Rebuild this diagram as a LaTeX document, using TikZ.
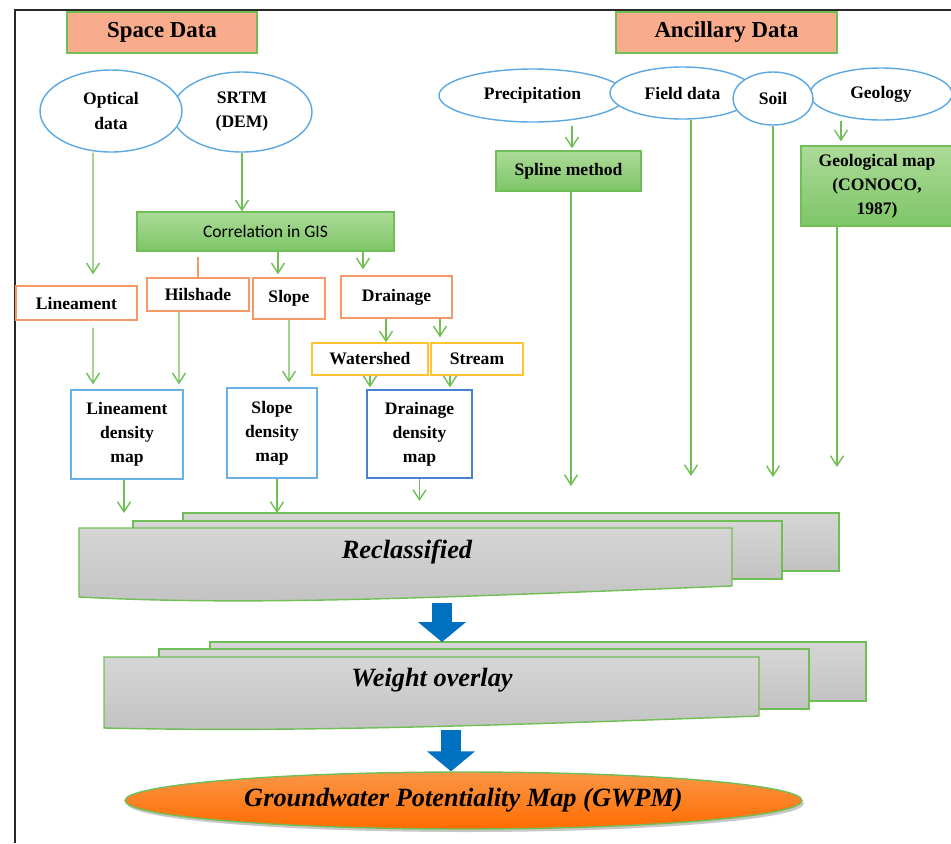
\documentclass[tikz,border=0pt]{standalone}
\usepackage{fontspec}
\setmainfont{Liberation Serif}
\newfontfamily\calibrifont{Carlito}
\usetikzlibrary{arrows.meta,shapes.geometric,shadows}

\definecolor{salmon}{RGB}{248,172,140}
\definecolor{boxgreen}{RGB}{112,190,86}
\definecolor{greentop}{RGB}{172,219,152}
\definecolor{greenbot}{RGB}{126,197,104}
\definecolor{ellblue}{RGB}{92,168,226}
\definecolor{mapblue}{RGB}{104,178,232}
\definecolor{mapdarkblue}{RGB}{72,128,210}
\definecolor{boxorange}{RGB}{246,152,104}
\definecolor{boxyellow}{RGB}{255,196,48}
\definecolor{layertop}{RGB}{214,214,214}
\definecolor{layerbot}{RGB}{194,194,194}
\definecolor{flowblue}{RGB}{0,112,192}
\definecolor{gwpmtop}{RGB}{250,150,70}
\definecolor{gwpmbot}{RGB}{255,108,0}
\definecolor{framegray}{RGB}{40,40,40}

\begin{document}
\begin{tikzpicture}[x=0.02cm,y=-0.02cm]
\tikzstyle{header} = [rectangle, draw=boxgreen, line width=.8pt, fill=salmon,
font=\bfseries\fontsize{13}{15}\selectfont, minimum height=.82cm]
\tikzstyle{source} = [ellipse, draw=ellblue, line width=.8pt, fill=white,
inner sep=0pt, align=center, font=\bfseries\fontsize{10}{13.7}\selectfont]
\tikzstyle{process} = [rectangle, draw=boxgreen, line width=.8pt, top color=greentop,
bottom color=greenbot, inner sep=2pt, align=center, font=\bfseries\fontsize{10}{13.7}\selectfont]
\tikzstyle{layerbox} = [rectangle, draw=boxorange, line width=.8pt, fill=white,
font=\bfseries\fontsize{10}{12}\selectfont]
\tikzstyle{subbox} = [layerbox, draw=boxyellow]
\tikzstyle{mapbox} = [rectangle, draw=mapblue, line width=.8pt, fill=white,
align=center, font=\bfseries\fontsize{10}{13.7}\selectfont]
\tikzstyle{sheet} = [draw=boxgreen, line width=.8pt, top color=layertop, bottom color=layerbot]
\tikzstyle{stacktext} = [font=\bfseries\itshape\fontsize{15}{18}\selectfont]
\tikzstyle{line} = [draw=boxgreen, line width=.8pt, -{Straight Barb[length=.2cm,width=.26cm]}]
\tikzstyle{flow} = [draw=flowblue, line width=.4cm, -{Triangle[length=.4cm,width=.94cm]}]

\useasboundingbox (0,0) rectangle (951,843);
\draw[framegray, line width=1.2pt] (951,10) -- (15,10) -- (15,843);

% reclassified sheets
\path[sheet] (183,513) rectangle (839,571);
\path[sheet] (133,521) rectangle (782,579);
\path[sheet] (79,528) -- (732,528) -- (732,586) .. controls (430,598) and (250,606) .. (79,597) -- cycle;
% weight overlay sheets
\path[sheet] (210,642) rectangle (866,701);
\path[sheet] (159,649) rectangle (809,709);
\path[sheet] (104,657) -- (759,657) -- (759,716) .. controls (460,727) and (280,732) .. (104,728) -- cycle;

\coordinate (recltop) at (183,513);
\coordinate (reclbot) at (442,603);
\coordinate (wgttop) at (210,642);
\coordinate (wgtbot) at (451,730);

% row 1
\node[header, minimum width=3.8cm] (space) at (162,32.5) {Space Data};
\node[header, minimum width=4.42cm] (ancillary) at (726.5,32.5) {Ancillary Data};
% row 2
\node[source, minimum width=2.8cm, minimum height=1.6cm] (srtm) at (242,112) {SRTM\\(DEM)};
\node[source, minimum width=2.84cm, minimum height=1.64cm] (optical) at (111,111) {Optical\\data};
\node[source, minimum width=3.74cm, minimum height=1.06cm] (precip) at (532.5,95.5) {Precipitation};
\node[source, minimum width=2.9cm, minimum height=1.04cm] (field) at (682.5,93) {Field data};
\node[source, minimum width=2.84cm, minimum height=1.04cm] (geology) at (881,94) {Geology};
\node[source, minimum width=1.6cm, minimum height=1.06cm] (soil) at (773,98.5) {Soil};
% row 3
\node[process, font=\calibrifont\fontsize{10}{12}\selectfont, minimum width=5.14cm,
minimum height=.78cm] (corr) at (265.5,231.5) {Correlation in GIS};
\node[process, minimum width=2.9cm, minimum height=.8cm] (spline) at (568.5,171) {Spline method};
\node[process, minimum width=3.04cm, minimum height=1.6cm] (geomap) at (877,186) {Geological map\\(CONOCO,\\1987)};
% row 4
\node[layerbox, minimum width=2.42cm, minimum height=.68cm] (lineament) at (76.5,303) {Lineament};
\node[layerbox, minimum width=2.04cm, minimum height=.66cm] (hilshade) at (198,294.5) {Hilshade};
\node[layerbox, minimum width=1.44cm, minimum height=.82cm] (slope) at (289,298.5) {Slope};
\node[layerbox, minimum width=2.22cm, minimum height=.84cm] (drainage) at (396.5,297) {Drainage};
% row 5
\node[subbox, minimum width=2.32cm, minimum height=.64cm] (watershed) at (370,359) {Watershed};
\node[subbox, minimum width=1.84cm, minimum height=.64cm] (stream) at (477,359) {Stream};
% row 6
\node[mapbox, minimum width=2.24cm, minimum height=1.78cm] (ldmap) at (127,434.5) {Lineament\\density\\map};
\node[mapbox, minimum width=1.8cm, minimum height=1.8cm] (sdmap) at (272,433) {Slope\\density\\map};
\node[mapbox, draw=mapdarkblue, minimum width=2.1cm, minimum height=1.76cm] (ddmap) at (419.5,434) {Drainage\\density\\map};
% row 7
\node[stacktext] (reclass) at (407,552) {Reclassified};
\node[stacktext] (weight) at (432,680) {Weight overlay};
\node[ellipse, draw=boxgreen, line width=.8pt, top color=gwpmtop, bottom color=gwpmbot,
inner sep=0pt, minimum width=13.54cm, minimum height=1.14cm, stacktext,
drop shadow={shadow xshift=.4mm, shadow yshift=-.6mm, opacity=.22, fill=black}]
(gwpm) at (463.5,800.5) {Groundwater Potentiality Map (GWPM)};

\tikzstyle{every path}=[line]
\path[shorten >=.22cm] ([xshift=-.36cm]optical.south) -- ([xshift=.33cm]lineament.north);
\path (srtm.south) -- (srtm.south |- corr.north);
\path[draw=boxorange, -, shorten <=.1cm] (hilshade.north |- corr.south) -- (hilshade.north);
\path[shorten >=.06cm] ([xshift=-.22cm]slope.north |- corr.south) -- ([xshift=-.22cm]slope.north);
\path[shorten >=.12cm] ([xshift=-.67cm]drainage.north |- corr.south) -- ([xshift=-.67cm]drainage.north);
\path[shorten <=.14cm, shorten >=.1cm] ([xshift=.33cm]lineament.south) -- ([xshift=-.68cm]ldmap.north);
\path[shorten >=.1cm] ([xshift=-.38cm]hilshade.south) -- ([xshift=1.04cm]ldmap.north);
\path[shorten >=.1cm] (slope.south) -- ([xshift=.34cm]sdmap.north);
\path ([xshift=-.21cm]drainage.south) -- ([xshift=-.21cm]drainage.south |- watershed.north);
\path[shorten >=.1cm] ([xshift=.87cm]drainage.south) -- ([xshift=.87cm]drainage.south |- stream.north);
\path[shorten >=.04cm] (watershed.south) -- (watershed.south |- ddmap.north);
\path[shorten >=.04cm] ([xshift=-.54cm]stream.south) -- ([xshift=-.54cm]stream.south |- ddmap.north);
\path ([xshift=-.06cm]ldmap.south) -- ([xshift=-.06cm]ldmap.south |- recltop);
\path ([xshift=.1cm]sdmap.south) -- ([xshift=.1cm]sdmap.south |- recltop);
\path[shorten >=.24cm] (ddmap.south) -- (ddmap.south |- recltop);
\path[shorten <=.06cm, shorten >=.04cm] ([xshift=.07cm]spline.north |- precip.south) -- ([xshift=.07cm]spline.north);
\path[shorten >=.54cm] ([xshift=.05cm]spline.south) -- ([xshift=.05cm]spline.south |- recltop);
\path[shorten >=.74cm] ([xshift=.17cm]field.south) -- ([xshift=.17cm]field.south |- recltop);
\path[shorten >=.72cm] (soil.south) -- (soil.south |- recltop);
\path[shorten >=.08cm] ([xshift=-.72cm]geomap.north |- geology.south) -- ([xshift=-.72cm]geomap.north);
\path[shorten >=.92cm] ([xshift=-.8cm]geomap.south) -- ([xshift=-.8cm]geomap.south |- recltop);
% flow to overlay and map
\path[flow] (reclbot) -- (reclbot |- wgttop);
\path[flow] (wgtbot) -- (wgtbot |- gwpm.north);

\end{tikzpicture}
\end{document}
